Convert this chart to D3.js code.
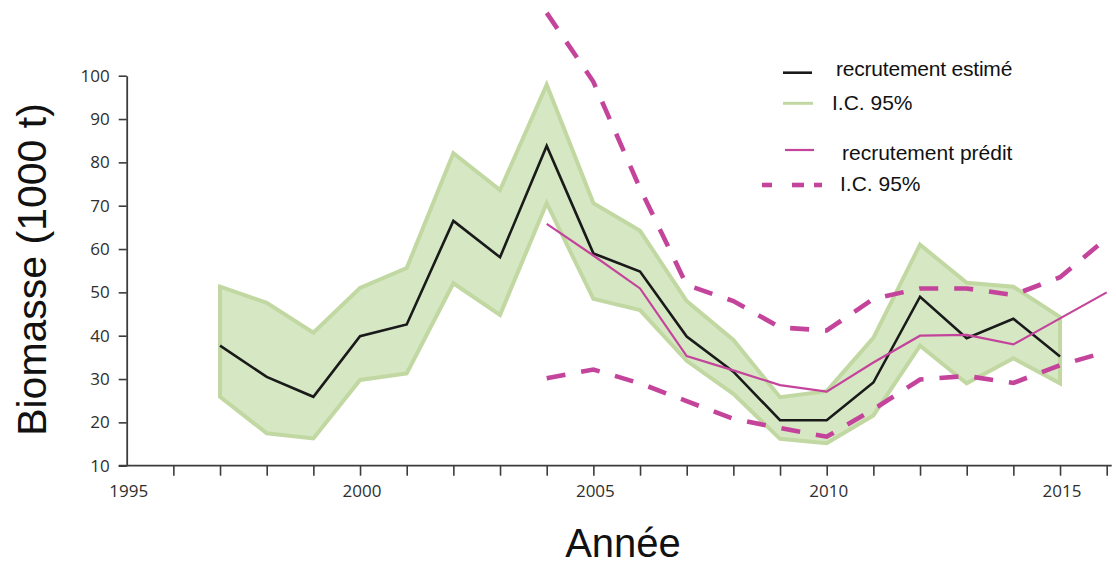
<!DOCTYPE html>
<html>
<head>
<meta charset="utf-8">
<script src="https://cdn.jsdelivr.net/npm/d3@7"></script>
<style>
  html, body { margin: 0; padding: 0; background: #ffffff; }
  svg { display: block; }
</style>
</head>
<body>
<svg id="chart" width="1116" height="565"></svg>
<script>
// Recrutement estimé (1997-2015) avec intervalle de confiance à 95 %
const yearsEst = [1997, 1998, 1999, 2000, 2001, 2002, 2003, 2004, 2005, 2006,
                  2007, 2008, 2009, 2010, 2011, 2012, 2013, 2014, 2015];
const estValues = [37.7, 30.5, 25.9, 39.9, 42.6, 66.5, 58.1, 83.8, 59.0, 54.8,
                   39.8, 31.7, 20.5, 20.5, 29.2, 49.0, 39.4, 43.9, 35.2];
const estUpper = [51.3, 47.6, 40.7, 51.0, 55.6, 82.1, 73.6, 97.9, 70.6, 64.2,
                  48.0, 39.0, 25.8, 27.2, 39.5, 61.0, 52.2, 51.3, 44.3];
const estLower = [25.9, 17.5, 16.3, 29.8, 31.3, 52.1, 44.8, 70.6, 48.5, 45.9,
                  34.2, 26.6, 16.2, 15.2, 21.6, 37.7, 29.0, 34.8, 29.0];

// Recrutement prédit (2004-2016) avec intervalle de confiance à 95 %
const yearsPred = [2004, 2005, 2006, 2007, 2008, 2009, 2010, 2011, 2012, 2013,
                   2014, 2015, 2016];
const predValues = [65.8, 58.5, 50.9, 35.3, 32.0, 28.6, 27.1, 33.8, 40.0, 40.2,
                    38.0, 44.0, 50.0];
const predUpper = [114.5, 98.6, 74.0, 51.7, 48.0, 41.9, 41.2, 48.5, 50.9, 50.9,
                   49.4, 53.5, 62.5];
const predLower = [30.2, 32.2, 29.0, 24.9, 20.8, 18.7, 16.7, 23.0, 29.9, 30.7,
                   29.1, 33.2, 36.3];

// Axes
const yTicks = [10, 20, 30, 40, 50, 60, 70, 80, 90, 100];
const xTicks = d3.range(1996, 2017);
const xLabels = [1995, 2000, 2005, 2010, 2015];

const legendItems = ["recrutement estimé", "I.C.  95%", "recrutement  prédit", "I.C.  95%"];

const GREEN_FILL = "#d5e8c3";
const GREEN_EDGE = "#c2d8a3";
const PINK = "#c4449b";
const BLACK = "#1a1a1a";
const AXIS = "#3c3c3c";

const svg = d3.select("#chart");

const x = d3.scaleLinear().domain([1995, 2016]).range([126.7, 1106.7]);
const y = d3.scaleLinear().domain([10, 100]).range([465.7, 75.7]);

const est = yearsEst.map((yr, i) => ({ yr, v: estValues[i], lo: estLower[i], hi: estUpper[i] }));
const pred = yearsPred.map((yr, i) => ({ yr, v: predValues[i], lo: predLower[i], hi: predUpper[i] }));

// Y axis
const gy = svg.append("g")
  .attr("transform", `translate(${x(1995)},0)`)
  .call(d3.axisLeft(y).tickValues(yTicks).tickSize(8).tickSizeOuter(0).tickPadding(9));
gy.select(".domain").attr("stroke", AXIS).attr("stroke-width", 1.8);
gy.selectAll(".tick line").attr("stroke", AXIS).attr("stroke-width", 1.6);
gy.selectAll(".tick text")
  .attr("fill", "#2e2e2e")
  .style("font-family", "'Open Sans', sans-serif")
  .style("font-size", "17px");

// X axis
const gx = svg.append("g")
  .attr("transform", `translate(0,${y(10)})`)
  .call(d3.axisBottom(x).tickValues(xTicks).tickSize(10).tickFormat(""));
gx.select(".domain").remove();
gx.selectAll(".tick line").attr("stroke", AXIS).attr("stroke-width", 1.6);
gx.append("line")
  .attr("x1", x(1995) - 8).attr("x2", x(2016) + 5)
  .attr("y1", 0).attr("y2", 0)
  .attr("stroke", AXIS).attr("stroke-width", 1.8);
gx.selectAll(".year-label")
  .data(xLabels)
  .join("text")
  .attr("class", "year-label")
  .attr("x", d => x(d) + 2)
  .attr("y", 31)
  .attr("text-anchor", "middle")
  .attr("fill", "#2e2e2e")
  .style("font-family", "'Open Sans', sans-serif")
  .style("font-size", "17px")
  .text(d => d);

// Axis titles
svg.append("text")
  .attr("transform", `translate(46,${(92 + 447) / 2}) rotate(-90)`)
  .attr("text-anchor", "middle")
  .attr("fill", "#111")
  .style("font-family", "'Liberation Sans', Arial, sans-serif")
  .style("font-size", "41px")
  .text("Biomasse (1000 t)");

svg.append("text")
  .attr("x", 623)
  .attr("y", 557)
  .attr("text-anchor", "middle")
  .attr("fill", "#111")
  .style("font-family", "'Liberation Sans', Arial, sans-serif")
  .style("font-size", "40px")
  .text("Année");

// Confidence band of the estimated recruitment
const band = d3.area()
  .x(d => x(d.yr))
  .y0(d => y(d.lo))
  .y1(d => y(d.hi));
svg.append("path")
  .datum(est)
  .attr("d", band)
  .attr("fill", GREEN_FILL)
  .attr("stroke", GREEN_EDGE)
  .attr("stroke-width", 4)
  .attr("stroke-linejoin", "miter");

// Estimated recruitment
const lineOf = key => d3.line().x(d => x(d.yr)).y(d => y(d[key]));
svg.append("path")
  .datum(est)
  .attr("d", lineOf("v"))
  .attr("fill", "none")
  .attr("stroke", BLACK)
  .attr("stroke-width", 2.6)
  .attr("stroke-linejoin", "miter");

// Predicted recruitment
svg.append("path")
  .datum(pred)
  .attr("d", lineOf("v"))
  .attr("fill", "none")
  .attr("stroke", PINK)
  .attr("stroke-width", 2.2);

// Confidence limits of the prediction
["hi", "lo"].forEach(key => {
  svg.append("path")
    .datum(pred)
    .attr("d", lineOf(key))
    .attr("fill", "none")
    .attr("stroke", PINK)
    .attr("stroke-width", 4.6)
    .attr("stroke-dasharray", "19,16");
});

// Legend
const legend = svg.append("g")
  .style("font-family", "'Liberation Sans', Arial, sans-serif")
  .style("font-size", "21px")
  .attr("fill", "#111");

legend.append("line").attr("x1", 783).attr("x2", 812).attr("y1", 72.7).attr("y2", 72.7)
  .attr("stroke", BLACK).attr("stroke-width", 2.6);
legend.append("line").attr("x1", 783).attr("x2", 813).attr("y1", 103.3).attr("y2", 103.3)
  .attr("stroke", GREEN_EDGE).attr("stroke-width", 3);
legend.append("line").attr("x1", 785).attr("x2", 814).attr("y1", 150).attr("y2", 150)
  .attr("stroke", PINK).attr("stroke-width", 2.2);
[[762, 772], [792, 804], [814, 822]].forEach(([a, b]) => {
  legend.append("line").attr("x1", a).attr("x2", b).attr("y1", 185).attr("y2", 185)
    .attr("stroke", PINK).attr("stroke-width", 4.6);
});

const legendPos = [[836, 76], [832, 109.5], [842, 160], [840, 191]];
legend.selectAll("text.item")
  .data(legendItems)
  .join("text")
  .attr("class", "item")
  .attr("x", (d, i) => legendPos[i][0])
  .attr("y", (d, i) => legendPos[i][1])
  .style("letter-spacing", (d, i) => i === 0 ? "-0.2px" : "0px")
  .text(d => d);
</script>
</body>
</html>
